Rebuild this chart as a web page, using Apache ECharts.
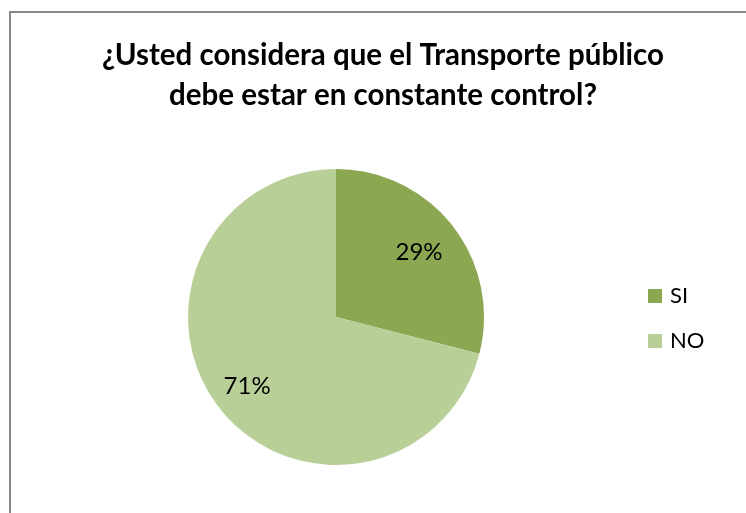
<!DOCTYPE html>
<html>
<head>
<meta charset="utf-8">
<script src="https://cdn.jsdelivr.net/npm/echarts@6/dist/echarts.min.js"></script>
<style>
  html, body { margin: 0; padding: 0; background: #fff; }
  #chart { width: 746px; height: 513px; }
</style>
</head>
<body>
<div id="chart"></div>
<script>
// Survey answers about constant control of public transport
const titleText = '¿Usted considera que el Transporte público\ndebe estar en constante control?';
const categories = ['SI', 'NO'];
const values = [29, 71];
const colors = ['#8BA752', '#B9CF98'];

const R = 148;
const CX = 336, CY = 317;
const total = values.reduce((a, b) => a + b, 0);

// Place each percentage label at a fixed fraction of the radius along the slice bisector
function labelPos(idx) {
  let before = 0;
  for (let i = 0; i < idx; i++) before += values[i];
  const mid = (before + values[idx] / 2) / total * 2 * Math.PI;
  const k = idx === 0 ? 0.71 : 0.76;
  return { x: CX + Math.sin(mid) * R * k, y: CY - Math.cos(mid) * R * k };
}

const chart = echarts.init(document.getElementById('chart'));
chart.setOption({
  animation: false,
  title: {
    text: titleText,
    left: 383,
    top: 35,
    padding: 0,
    textAlign: 'center',
    textStyle: {
      fontFamily: 'Lato',
      fontWeight: 'bold',
      fontSize: 29.5,
      lineHeight: 40,
      color: '#000'
    }
  },
  legend: {
    orient: 'vertical',
    left: 643,
    top: 280,
    itemWidth: 14,
    itemHeight: 14,
    itemGap: 23,
    icon: 'rect',
    textStyle: { fontFamily: 'Lato', fontSize: 22, color: '#000', padding: [0, 0, 0, 3] },
    data: categories
  },
  graphic: [{
    type: 'rect',
    shape: { x: 10, y: 12, width: 800, height: 600 },
    style: { fill: 'none', stroke: '#888', lineWidth: 2 },
    silent: true
  }],
  series: [{
    type: 'pie',
    center: [CX, CY],
    radius: R,
    startAngle: 90,
    clockwise: true,
    silent: true,
    label: {
      show: true,
      position: 'inside',
      formatter: (p) => p.value + '%',
      fontFamily: 'Lato',
      fontSize: 24,
      color: '#000'
    },
    labelLine: { show: false },
    labelLayout: (p) => {
      const pos = labelPos(p.dataIndex);
      return { x: pos.x, y: pos.y, align: 'center', verticalAlign: 'middle' };
    },
    data: categories.map((c, i) => ({
      name: c,
      value: values[i],
      itemStyle: { color: colors[i] }
    }))
  }]
});
</script>
</body>
</html>
